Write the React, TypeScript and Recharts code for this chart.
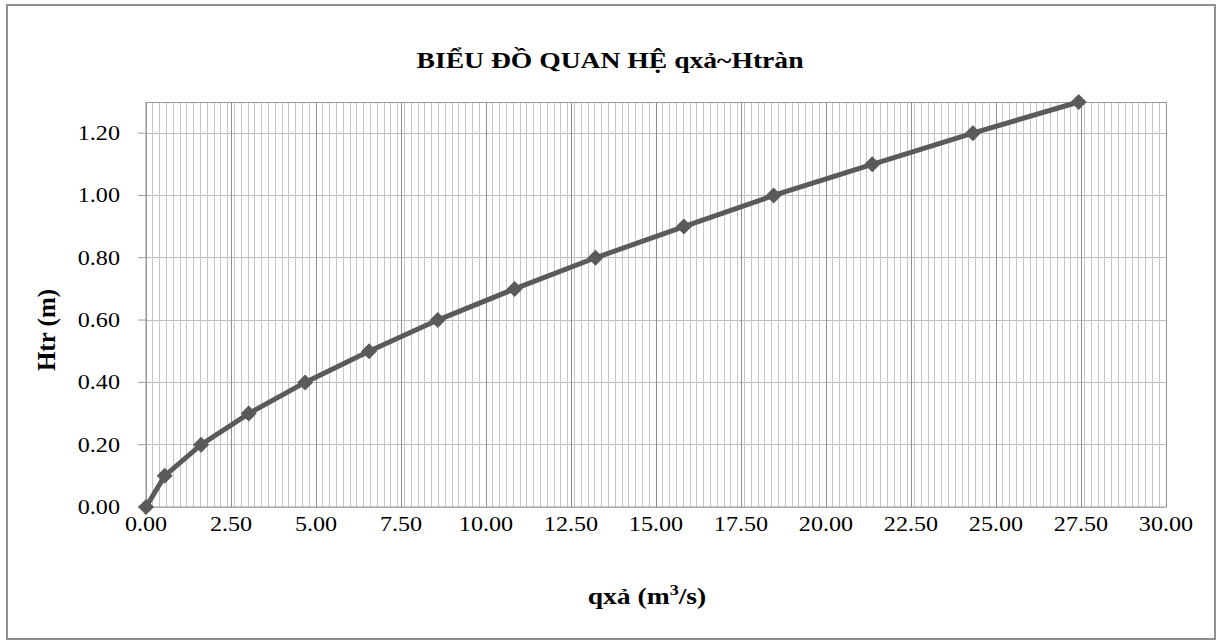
import { LineChart, Line, XAxis, YAxis, CartesianGrid, ReferenceLine } from 'recharts';

// discharge per metre of crest (m3/s) vs head over spillway (m)
const qxa = [0, 0.55, 1.62, 3.02, 4.68, 6.56, 8.58, 10.84, 13.22, 15.82, 18.46, 21.36, 24.32, 27.43];
const htr = [0, 0.1, 0.2, 0.3, 0.4, 0.5, 0.6, 0.7, 0.8, 0.9, 1.0, 1.1, 1.2, 1.3];

const xTicks = [0, 2.5, 5, 7.5, 10, 12.5, 15, 17.5, 20, 22.5, 25, 27.5, 30];
const yTicks = [0, 0.2, 0.4, 0.6, 0.8, 1.0, 1.2];
// minor vertical grid every 0.2
const xMinorTicks = Array.from({ length: 149 }, (_, i) => Math.round((i + 1) * 2) / 10);

const data = qxa.map((q, i) => ({ q, h: htr[i] }));

const FONT = '"Liberation Serif", "Times New Roman", serif';
const STRETCH = 1.15;

const XTick = ({ x, y, payload }: any) => (
  <g transform={`translate(${x},${y})`}>
    <text transform={`scale(${STRETCH},1)`} textAnchor="middle" dy={16} fontFamily={FONT} fontSize={21} fill="#000">
      {Number(payload.value).toFixed(2)}
    </text>
  </g>
);

const YTick = ({ x, y, payload }: any) => (
  <g transform={`translate(${x},${y})`}>
    <text transform={`scale(${STRETCH},1)`} textAnchor="end" dy={7} fontFamily={FONT} fontSize={21} fill="#000">
      {Number(payload.value).toFixed(2)}
    </text>
  </g>
);

const Diamond = ({ cx, cy }: any) => {
  if (cx == null || cy == null) return null;
  const r = 8;
  return <polygon points={`${cx},${cy - r} ${cx + r},${cy} ${cx},${cy + r} ${cx - r},${cy}`} fill="#5a5a5a" />;
};

export default function App() {
  return (
    <div style={{ position: 'absolute', left: 0, top: 0, width: 1224, height: 643, background: '#fff', fontFamily: FONT }}>
      <div
        style={{
          position: 'absolute',
          left: 6,
          top: 4,
          width: 1206,
          height: 632,
          border: '2px solid #8f8f8f',
        }}
      />
      <LineChart
        width={1224}
        height={643}
        data={data}
        margin={{ top: 102, right: 58, bottom: 0, left: 0 }}
        style={{ position: 'absolute', left: 0, top: 0 }}
      >
        <CartesianGrid vertical={false} stroke="#bdbdbd" strokeWidth={1} shapeRendering="crispEdges" />
        {xMinorTicks.map((v) => (
          <ReferenceLine key={v} x={v} stroke="#c6c6c6" strokeWidth={1} shapeRendering="crispEdges" />
        ))}
        {xTicks.map((v) => (
          <ReferenceLine key={`M${v}`} x={v} stroke="#8e8e8e" strokeWidth={1} shapeRendering="crispEdges" />
        ))}
        <XAxis
          dataKey="q"
          type="number"
          domain={[0, 30]}
          ticks={xTicks}
          interval={0}
          height={136}
          tickLine={false}
          axisLine={{ stroke: '#9a9a9a' }}
          tick={<XTick />}
          label={() => (
            <text
              x={647}
              y={604}
              textAnchor="middle"
              fontFamily={FONT}
              fontSize={23}
              fontWeight="bold"
              fill="#000"
              transform={`translate(${647 - 647 * 1.2},0) scale(1.2,1)`}
            >
              qxả (m<tspan dy={-9} fontSize={15}>3</tspan>
              <tspan dy={9}>/s)</tspan>
            </text>
          )}
        />
        <YAxis
          dataKey="h"
          type="number"
          domain={[0, 1.3]}
          ticks={yTicks}
          interval={0}
          width={146}
          tickSize={8}
          tickMargin={18}
          tickLine={{ stroke: '#9a9a9a' }}
          axisLine={{ stroke: '#9a9a9a' }}
          tick={<YTick />}
          label={() => (
            <text
              x={46}
              y={330}
              textAnchor="middle"
              dominantBaseline="central"
              fontFamily={FONT}
              fontSize={25}
              fontWeight="bold"
              fill="#000"
              transform="rotate(-90 46 330)"
            >
              Htr (m)
            </text>
          )}
        />
        <ReferenceLine y={1.3} stroke="#9a9a9a" shapeRendering="crispEdges" />
        <Line
          dataKey="h"
          type="linear"
          stroke="#5a5a5a"
          strokeWidth={5}
          dot={<Diamond />}
          activeDot={false}
          isAnimationActive={false}
        />
      </LineChart>
      <div
        style={{
          position: 'absolute',
          left: 0,
          top: 48,
          width: 1220,
          textAlign: 'center',
          fontSize: 23,
          fontWeight: 'bold',
          color: '#000',
          transform: 'scaleX(1.2)',
          transformOrigin: '610px 0',
        }}
      >
        BIỂU ĐỒ QUAN HỆ qxả~Htràn
      </div>
    </div>
  );
}
